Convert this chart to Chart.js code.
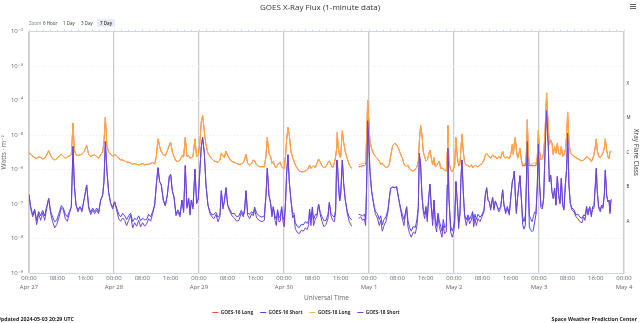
<!DOCTYPE html>
<html>
<head>
<meta charset="utf-8">
<script src="https://cdn.jsdelivr.net/npm/chart.js@4.4.1/dist/chart.umd.min.js"></script>
<style>
  html, body { margin: 0; padding: 0; background: #fff; }
  #wrap { position: relative; width: 640px; height: 323px; overflow: hidden; font-family: "Open Sans", "DejaVu Sans", sans-serif; }
  #xray { position: absolute; left: 0; top: 0; }
  .zoom { position: absolute; top: 19px; height: 8px; line-height: 8px; font-size: 4.5px; color: #333; white-space: nowrap; }
  .zoom.label { color: #777; }
  .zoom.sel { background: #e6ebf5; padding: 0 3px; font-weight: 600; }
  #menu { position: absolute; left: 630px; top: 4px; width: 6px; }
  #menu i { display: block; height: 1px; background: #666; margin-bottom: 0.8px; }
  .credit { position: absolute; top: 315px; height: 8px; line-height: 8px; font-size: 5.2px; font-weight: 700; color: #222; white-space: nowrap; }
</style>
</head>
<body>
<div id="wrap">
  <canvas id="xray" width="640" height="323"></canvas>
  <div class="zoom label" style="left:29px">Zoom</div>
  <div class="zoom" style="left:43px">6 Hour</div>
  <div class="zoom" style="left:63px">1 Day</div>
  <div class="zoom" style="left:81px">3 Day</div>
  <div class="zoom sel" style="left:97px">7 Day</div>
  <div id="menu"><i></i><i></i><i></i></div>
  <div class="credit" style="left:-3px">Updated 2024-05-03 20:29 UTC</div>
  <div class="credit" style="right:3px">Space Weather Prediction Center</div>
</div>
<script>
// hours since 2024-04-27 00:00 UTC (null row = data gap)
const hours = [
  0, 0.47, 1.04, 1.6, 2.17, 2.73, 3.3, 3.86, 4.43, 4.99, 5.55, 6.12, 6.68, 7.25, 7.81, 8.38, 9.13, 9.7, 10.26, 10.82,
  11.39, 11.95, 12.42, 12.8, 13.27, 13.83, 14.4, 14.96, 15.53, 16.28, 16.85, 17.41, 17.98, 18.54, 19.1, 19.67, 20.23, 20.8, 21.17, 21.55,
  22.02, 22.49, 23.06, 23.62, 24.19, 24.75, 25.32, 25.88, 26.44, 27.01, 27.57, 28.14, 28.7, 29.27, 29.83, 30.4, 30.96, 31.53, 32.09, 32.66,
  33.22, 33.78, 34.35, 34.91, 35.48, 35.95, 36.42, 36.89, 37.36, 37.92, 38.49, 39.05, 39.62, 39.99, 40.46, 40.93, 41.5,
  42.06, 42.63, 43.19, 43.66, 44.13, 44.6, 45.08, 45.45, 45.83, 46.3, 46.86, 47.33, 47.8, 48.28, 48.65, 49.03, 49.5, 49.97, 50.53, 51.1,
  51.66, 52.23, 52.79, 53.36, 53.92, 54.3, 54.77, 55.14, 55.62, 56.09, 56.65, 57.31, 57.97, 58.63, 59.28, 59.94, 60.51, 60.88, 61.26, 61.73,
  62.3, 62.86, 63.33, 63.71, 64.27, 65.03, 65.78, 66.44, 66.91, 67.28, 67.75, 68.22, 68.6, 68.98, 69.45, 69.82, 70.2, 70.58, 70.95, 71.33,
  71.71, 72.08, 72.46, 72.74, 73.12, 73.49, 73.96, 74.44, 74.81, 75.19, 75.75, 76.32, 76.88, 77.45, 78.01, 78.58, 78.95, 79.23, 79.61, 79.99,
  80.36, 80.83, 81.3, 81.77, 82.24, 82.72, 83.28,
  83.85, 84.42, 84.8, 85.27, 85.74, 86.21, 86.58, 86.87, 87.05, 87.34, 87.71, 87.99, 88.47, 88.84, 89.31, 89.88, 90.44, 91.1, 92, 93.08,
  93.64, 94.21, 94.68, 95.05, 95.34, 95.62, 95.9, 96.28, 96.75, 97.22, 97.78, 98.35, 98.91, 99.29, 99.76, 100.23, 100.79, 101.36, 101.73, 102.11,
  102.68, 103.24, 103.8, 104.37, 104.93, 105.5, 105.87, 106.25, 106.63, 107.0, 107.47, 107.94, 108.51, 109.07, 109.54, 109.92, 110.2, 110.58, 110.95, 111.33,
  111.71, 112.08, 112.46, 112.84, 113.21, 113.59, 113.97, 114.34, 114.72, 115.1, 115.47, 115.85, 116.23, 116.6, 116.98, 117.35, 117.82, 118.11, 118.3, 118.58,
  119.05, 119.52, 119.89, 120.18, 120.55, 120.93, 121.31, 121.68, 121.96, 122.25, 122.62, 123.0, 123.47, 123.94, 124.41, 124.98,
  125.27, 125.55, 125.93, 126.3, 126.77, 127.34, 127.9, 128.47, 128.84, 129.22, 129.6, 129.97, 130.35, 130.91, 131.29, 131.67, 132.14, 132.61, 133.17, 133.74,
  134.11, 134.58, 135.05, 135.62, 136.09, 136.47, 136.75, 137.03, 137.31, 137.6, 137.97, 138.35, 138.63, 139.01, 139.38, 139.76, 140.14, 140.42, 140.7, 140.98,
  141.27, 141.64, 142.02, 142.39, 142.77, 143.15, 143.52, 143.81, 144.18, 144.56, 144.94, 145.31, 145.69, 145.97, 146.16, 146.35, 146.63, 146.91, 147.29, 147.66,
  148.04, 148.42, 148.79, 149.17, 149.55, 149.92, 150.3, 150.68, 151.05, 151.43, 151.81, 152.09, 152.46, 152.84, 153.31, 153.88, 154.44, 155.0, 155.57, 156.13,
  156.6, 156.98, 157.45, 157.83, 158.3, 158.77, 159.15, 159.52, 159.9, 160.18, 160.46, 160.84, 161.31, 161.69, 162.06, 162.44, 162.72, 163.1, 163.47, 163.76,
  164.04, 164.32, 164.42
];

// 0.1-0.8 nm, GOES-18 (W/m²)
const goes18Long = [
  3.3e-6, 2.8e-6, 2.4e-6, 2.24e-6, 2.14e-6, 2.34e-6, 2.24e-6, 2.05e-6, 2.14e-6, 2.7e-6, 3.55e-6, 2.56e-6, 2.05e-6, 1.91e-6, 2.05e-6, 2.4e-6, 2.8e-6, 2.4e-6, 2.14e-6, 2.34e-6,
  2.5e-6, 2.7e-6, 2.24e-5, 3.7e-6, 2.7e-6, 2.56e-6, 2.7e-6, 2.8e-6, 3.3e-6, 5.0e-6, 2.8e-6, 2.4e-6, 2.56e-6, 2.7e-6, 2.4e-6, 2.14e-6, 2.7e-6, 3.3e-6, 6.5e-6, 3.27e-5,
  4.7e-6, 3.3e-6, 2.8e-6, 2.45e-6, 2.7e-6, 2.56e-6, 2.14e-6, 1.91e-6, 1.91e-6, 1.79e-6, 1.64e-6, 1.64e-6, 1.53e-6, 1.43e-6, 1.5e-6, 1.43e-6, 1.37e-6, 1.43e-6, 1.5e-6, 1.37e-6,
  1.43e-6, 1.43e-6, 1.5e-6, 1.64e-6, 1.43e-6, 2.4e-6, 7.8e-6, 4.7e-6, 3.3e-6, 2.7e-6, 2.56e-6, 3.45e-6, 5.2e-6, 6.25e-6, 3.3e-6, 2.4e-6, 1.79e-6,
  1.71e-6, 1.87e-6, 2.56e-6, 2.34e-6, 8.55e-6, 2.4e-6, 2.56e-6, 2.14e-6, 2.24e-6, 2.4e-6, 7.8e-6, 2.4e-6, 2.7e-6, 6.5e-6, 2.5e-5, 3.74e-5, 1.28e-5, 5.2e-6, 3.0e-6, 2.4e-6,
  2.05e-6, 1.79e-6, 1.71e-6, 1.64e-6, 1.91e-6, 3.0e-6, 2.56e-6, 2.24e-6, 3.45e-6, 2.56e-6, 2.05e-6, 1.71e-6, 1.64e-6, 1.5e-6, 1.43e-6, 1.43e-6, 1.64e-6, 1.91e-6, 2.8e-6, 1.53e-6,
  1.37e-6, 1.5e-6, 1.91e-6, 1.79e-6, 1.37e-6, 1.22e-6, 1.22e-6, 1.22e-6, 2.4e-6, 8.55e-6, 3.0e-6, 2.4e-6, 1.53e-6, 1.71e-6, 1.22e-6, 1.14e-6, 1.37e-6, 1.53e-6, 1.64e-6, 1.22e-6,
  1.09e-6, 1.09e-6, 2.7e-6, 7.3e-6, 1.67e-5, 1.02e-5, 3.3e-6, 2.24e-6, 1.79e-6, 1.37e-6, 1.09e-6, 9.1e-7, 8.7e-7, 8.7e-7, 9.1e-7, 9.8e-7, 1.14e-6, 1.37e-6, 1.09e-6, 1.22e-6,
  1.31e-6, 1.14e-6, 1.53e-6, 2.05e-6, 1.64e-6, 1.31e-6, 1.14e-6,
  1.22e-6, 1.64e-6, 1.79e-6, 1.37e-6, 1.14e-6, 1.53e-6, 2.4e-6, 4.2e-6, 1.22e-5, 4.2e-6, 2.4e-6, 2.24e-6, 1.34e-5, 6.25e-6, 3.3e-6, 2.05e-6, 1.37e-6, 1.09e-6, null, 1.37e-6,
  1.43e-6, 1.53e-6, 1.53e-6, 1.64e-6, 1.02e-5, 1.0e-4, 3.13e-5, 6.5e-6, 4.0e-6, 3.0e-6, 2.4e-6, 2.14e-6, 1.79e-6, 1.43e-6, 1.53e-6, 1.31e-6, 1.14e-6, 1.22e-6, 1.43e-6, 2.4e-6,
  5.0e-6, 5.8e-6, 5.2e-6, 4.0e-6, 2.8e-6, 2.05e-6, 1.43e-6, 1.31e-6, 1.22e-6, 1.37e-6, 1.04e-6, 9.6e-7, 9.1e-7, 1.04e-6, 1.2e-6, 1.79e-6, 6.5e-6, 1.91e-5, 1.02e-5, 3.3e-6,
  2.4e-6, 1.79e-6, 1.91e-6, 2.7e-6, 3.7e-6, 2.14e-6, 1.37e-6, 2.24e-6, 1.22e-6, 1.31e-6, 1.53e-6, 1.79e-6, 1.09e-6, 1.14e-6, 1.04e-6, 9.6e-7, 9.1e-7, 3.3e-6, 1.91e-5, 1.71e-6,
  9.8e-7, 8.7e-7, 1.09e-6, 1.37e-6, 8.55e-6, 2.56e-6, 1.43e-6, 1.64e-6, 4.2e-6, 1.07e-5, 3.3e-6, 1.64e-6, 1.37e-6, 1.31e-6, 1.22e-6, 1.37e-6,
  1.14e-6, 1.22e-6, 1.37e-6, 1.25e-6, 1.22e-6, 1.37e-6, 1.5e-6, 1.91e-6, 2.56e-6, 3.0e-6, 2.56e-6, 2.4e-6, 2.14e-6, 2.7e-6, 2.34e-6, 2.4e-6, 2.05e-6, 2.4e-6, 2.14e-6, 3.45e-6,
  2.4e-6, 2.14e-6, 2.4e-6, 2.05e-6, 3.0e-6, 5.47e-6, 2.7e-6, 5.8e-6, 8.55e-6, 3.7e-6, 2.14e-6, 3.0e-6, 4.2e-6, 1.91e-6, 1.43e-6, 1.43e-6, 1.53e-6, 3.3e-6, 2.8e-5, 3.3e-6,
  1.5e-6, 1.43e-6, 1.43e-6, 1.53e-6, 1.64e-6, 1.43e-6, 2.4e-6, 1.34e-5, 3.3e-6, 1.91e-6, 2.05e-6, 3.0e-6, 1.14e-5, 6.1e-5, 1.67e-4, 5.5e-5, 1.79e-5, 5.2e-6, 7.3e-6, 5.8e-6,
  2.7e-6, 4.7e-6, 3.0e-6, 5.8e-6, 3.0e-6, 2.7e-6, 4.7e-6, 2.4e-6, 2.7e-6, 3.7e-6, 1.02e-5, 4.7e-5, 6.5e-6, 3.0e-6, 2.7e-6, 2.4e-6, 2.24e-6, 2.05e-6, 1.91e-6, 1.79e-6,
  1.91e-6, 2.05e-6, 2.4e-6, 2.24e-6, 2.05e-6, 1.71e-6, 2.05e-6, 2.7e-6, 4.7e-6, 7.8e-6, 3.7e-6, 2.4e-6, 2.24e-6, 2.56e-6, 3.0e-6, 4.2e-6, 7.8e-6, 3.7e-6, 2.4e-6, 2.05e-6,
  3.3e-6, 3.45e-6, 3.45e-6
];

// 0.05-0.4 nm, GOES-18 (W/m²)
const goes18Short = [
  1.9e-7, 7.5e-8, 4.3e-8, 6.3e-8, 2.55e-8, 5.3e-8, 3.4e-8, 5.7e-8, 3.4e-8, 7.5e-8, 1.46e-7, 5.3e-8, 3.1e-8, 2.05e-8, 2.55e-8, 3.8e-8, 7.9e-8, 6.7e-8, 3.8e-8, 3.2e-8,
  5.3e-8, 8.4e-8, 4.7e-6, 3.6e-7, 9.4e-8, 6.0e-8, 8.4e-8, 6.0e-8, 1.31e-7, 3.6e-7, 7.5e-8, 5.0e-8, 6.7e-8, 5.3e-8, 6.7e-8, 5.3e-8, 1.31e-7, 1.83e-7, 4.5e-7, 6.5e-6,
  8.7e-7, 2.2e-7, 1.05e-7, 7.2e-8, 1.17e-7, 6.7e-8, 3.8e-8, 3.2e-8, 4.0e-8, 3.4e-8, 2.4e-8, 3.4e-8, 4.8e-8, 2.05e-8, 2.9e-8, 2.3e-8, 3.4e-8, 2.2e-8, 2.9e-8, 2.3e-8,
  2.7e-8, 3.8e-8, 3.2e-8, 5.3e-8, 9.4e-8, 3.6e-7, 1.14e-6, 4.5e-7, 3.6e-7, 1.31e-7, 9.0e-8, 1.83e-7, 6.3e-7, 7.3e-7, 2.45e-7, 1.64e-7, 4.6e-8,
  6.0e-8, 4.3e-8, 1.31e-7, 5.7e-8, 1.31e-6, 7.5e-8, 1.46e-7, 4.8e-8, 1.31e-7, 7.2e-8, 1.04e-6, 1.05e-7, 1.46e-7, 1.09e-6, 4.7e-6, 8.55e-6, 3.0e-6, 3.6e-7, 9.4e-8, 5.3e-8,
  4.3e-8, 3.8e-8, 5.0e-8, 3.1e-8, 4.3e-8, 2.45e-7, 7.2e-8, 1.17e-7, 3.0e-7, 9.4e-8, 6.3e-8, 4.6e-8, 4.0e-8, 3.2e-8, 3.4e-8, 5.7e-8, 4.3e-8, 6.3e-8, 2.45e-7, 4.8e-8,
  3.8e-8, 5.3e-8, 4.6e-8, 7.2e-8, 4.0e-8, 3.4e-8, 3.1e-8, 3.4e-8, 1.83e-7, 1.09e-6, 1.83e-7, 1.05e-7, 4.3e-8, 8.4e-8, 3.4e-8, 2.4e-8, 6.0e-8, 3.1e-8, 3.2e-8, 8.4e-8,
  3.1e-8, 2.2e-8, 1.31e-7, 7.8e-7, 2.7e-6, 4.5e-7, 1.31e-7, 4.0e-8, 4.8e-8, 1.95e-8, 1.5e-8, 1.4e-8, 1.75e-8, 1.65e-8, 2.05e-8, 1.85e-8, 2.55e-8, 6.3e-8, 2.4e-8, 7.2e-8,
  2.4e-8, 3.7e-8, 4.3e-8, 1.0e-7, 5.0e-8, 3.2e-8, 2.2e-8,
  2.55e-8, 3.8e-8, 1.12e-7, 4.6e-8, 3.4e-8, 3.1e-8, 6.0e-8, 1.9e-6, 1.8e-6, 4.5e-7, 1.24e-7, 1.83e-7, 1.9e-6, 4.0e-7, 1.31e-7, 5.3e-8, 3.1e-8, 2.3e-8, null, 3.8e-8,
  4.3e-8, 3.4e-8, 3.8e-8, 2.4e-8, 3.6e-7, 2.6e-5, 8.2e-6, 8.7e-7, 2.3e-7, 1.17e-7, 5.3e-8, 4.0e-8, 2.4e-8, 3.4e-8, 1.65e-8, 2.4e-8, 3.2e-8, 6.0e-8, 1.46e-7, 2.9e-7,
  3.15e-7, 3.0e-7, 3.2e-7, 1.46e-7, 6.7e-8, 3.4e-8, 2.4e-8, 4.8e-8, 8.4e-8, 2.2e-8, 1.4e-8, 1.1e-8, 1.56e-8, 1.4e-8, 2.4e-8, 7.5e-8, 3.0e-6, 1.37e-6, 1.83e-7, 6.0e-8,
  3.8e-8, 7.5e-8, 3.1e-8, 1.46e-7, 3.8e-7, 7.5e-8, 2.4e-8, 1.31e-7, 2.4e-8, 1.56e-8, 4.8e-8, 2.2e-8, 1.56e-8, 1.1e-8, 2.4e-8, 1.4e-8, 1.56e-8, 3.6e-7, 4.2e-6, 1.46e-7,
  1.56e-8, 1.1e-8, 1.56e-8, 2.4e-8, 4.5e-7, 1.17e-7, 1.95e-8, 4.8e-8, 5.6e-7, 1.9e-6, 2.3e-7, 4.3e-8, 2.4e-8, 4.3e-8, 2.7e-8, 3.7e-8,
  5.3e-8, 2.2e-8, 3.8e-8, 2.4e-8, 3.8e-8, 3.1e-8, 4.3e-8, 6.0e-8, 1.83e-7, 3.0e-7, 1.31e-7, 1.17e-7, 6.7e-8, 1.56e-7, 6.7e-8, 1.24e-7, 9.0e-8, 6.0e-8, 7.5e-8, 2.6e-7,
  9.4e-8, 5.3e-8, 7.5e-8, 4.8e-8, 1.83e-7, 4.5e-7, 5.6e-7, 9.1e-7, 1.83e-7, 5.3e-8, 1.64e-7, 3.6e-7, 6.7e-7, 1.46e-7, 4.3e-8, 3.1e-8, 4.8e-8, 3.6e-7, 6.5e-6, 4.5e-7,
  4.8e-8, 3.8e-8, 3.1e-8, 4.3e-8, 6.0e-8, 5.3e-8, 3.6e-7, 5.5e-6, 3.6e-7, 7.9e-8, 7.2e-8, 1.46e-7, 3.0e-6, 2.5e-5, 5.1e-5, 1.6e-5, 4.7e-6, 4.5e-7, 7.0e-7, 2.3e-7,
  1.46e-7, 2.9e-7, 9.4e-8, 6.3e-7, 1.83e-7, 1.05e-7, 5.6e-7, 9.4e-8, 6.7e-8, 3.6e-7, 1.09e-6, 1.14e-5, 3.6e-7, 1.05e-7, 6.7e-8, 6.0e-8, 4.3e-8, 3.8e-8, 3.1e-8, 2.9e-8,
  4.3e-8, 3.4e-8, 7.5e-8, 4.8e-8, 8.4e-8, 4.3e-8, 7.5e-8, 7.5e-8, 3.6e-7, 1.09e-6, 2.3e-7, 7.5e-8, 6.0e-8, 9.4e-8, 7.5e-8, 1.83e-7, 9.8e-7, 1.83e-7, 1.17e-7, 1.31e-7,
  5.3e-8, 1.31e-7, 1.37e-7
];

// 0.1-0.8 nm, GOES-16 (W/m²)
const goes16Long = [
  3.3e-6, 2.8e-6, 2.4e-6, 2.24e-6, 2.14e-6, 2.34e-6, 2.24e-6, 2.05e-6, 2.14e-6, 2.7e-6, 3.55e-6, 2.56e-6, 2.05e-6, 1.91e-6, 2.05e-6, 2.4e-6, 2.8e-6, 2.4e-6, 2.14e-6, 2.34e-6,
  2.5e-6, 2.7e-6, 2.24e-5, 3.7e-6, 2.7e-6, 2.56e-6, 2.7e-6, 2.8e-6, 3.3e-6, 5.0e-6, 2.8e-6, 2.4e-6, 2.56e-6, 2.7e-6, 2.4e-6, 2.14e-6, 2.7e-6, 3.3e-6, 6.5e-6, 3.27e-5,
  4.7e-6, 3.3e-6, 2.8e-6, 2.45e-6, 2.7e-6, 2.56e-6, 2.14e-6, 1.91e-6, 1.91e-6, 1.79e-6, 1.64e-6, 1.64e-6, 1.53e-6, 1.43e-6, 1.5e-6, 1.43e-6, 1.37e-6, 1.43e-6, 1.5e-6, 1.37e-6,
  1.43e-6, 1.43e-6, 1.5e-6, 1.64e-6, 1.43e-6, 2.4e-6, 7.8e-6, 4.7e-6, 3.3e-6, 2.7e-6, 2.56e-6, 3.45e-6, 5.2e-6, 6.25e-6, 3.3e-6, 2.4e-6, 1.79e-6,
  1.71e-6, 1.87e-6, 2.56e-6, 2.34e-6, 8.55e-6, 2.4e-6, 2.56e-6, 2.14e-6, 2.24e-6, 2.4e-6, 7.8e-6, 2.4e-6, 2.7e-6, 6.5e-6, 2.5e-5, 3.74e-5, 1.28e-5, 5.2e-6, 3.0e-6, 2.4e-6,
  2.05e-6, 1.79e-6, 1.71e-6, 1.64e-6, 1.91e-6, 3.0e-6, 2.56e-6, 2.24e-6, 3.45e-6, 2.56e-6, 2.05e-6, 1.71e-6, 1.64e-6, 1.5e-6, 1.43e-6, 1.43e-6, 1.64e-6, 1.91e-6, 2.8e-6, 1.53e-6,
  1.37e-6, 1.5e-6, 1.91e-6, 1.79e-6, 1.37e-6, 1.22e-6, 1.22e-6, 1.22e-6, 2.4e-6, 8.55e-6, 3.0e-6, 2.4e-6, 1.53e-6, 1.71e-6, 1.22e-6, 1.14e-6, 1.37e-6, 1.53e-6, 1.64e-6, 1.22e-6,
  1.09e-6, 1.09e-6, 2.7e-6, 7.3e-6, 1.67e-5, 1.02e-5, 3.3e-6, 2.24e-6, 1.79e-6, 1.37e-6, 1.09e-6, 9.1e-7, 8.7e-7, 8.7e-7, 9.1e-7, 9.8e-7, 1.14e-6, 1.37e-6, 1.09e-6, 1.22e-6,
  1.31e-6, 1.14e-6, 1.53e-6, 2.05e-6, 1.64e-6, 1.31e-6, 1.14e-6,
  1.22e-6, 1.64e-6, 1.79e-6, 1.37e-6, 1.14e-6, 1.53e-6, 2.4e-6, 4.2e-6, 1.22e-5, 4.2e-6, 2.4e-6, 2.24e-6, 1.34e-5, 6.25e-6, 3.3e-6, 2.05e-6, 1.37e-6, 1.09e-6, null, 1.2e-6,
  1.25e-6, 1.3e-6, 1.3e-6, 1.4e-6, 1.02e-5, 1.0e-4, 3.13e-5, 6.5e-6, 4.0e-6, 3.0e-6, 2.4e-6, 2.14e-6, 1.79e-6, 1.43e-6, 1.53e-6, 1.31e-6, 1.14e-6, 1.22e-6, 1.43e-6, 2.4e-6,
  5.0e-6, 5.8e-6, 5.2e-6, 4.0e-6, 2.8e-6, 2.05e-6, 1.43e-6, 1.31e-6, 1.22e-6, 1.37e-6, 1.04e-6, 9.6e-7, 9.1e-7, 1.04e-6, 1.2e-6, 1.79e-6, 6.5e-6, 1.91e-5, 1.02e-5, 3.3e-6,
  2.4e-6, 1.79e-6, 1.91e-6, 2.7e-6, 3.7e-6, 2.14e-6, 1.37e-6, 2.24e-6, 1.22e-6, 1.31e-6, 1.53e-6, 1.79e-6, 1.09e-6, 1.14e-6, 1.04e-6, 9.6e-7, 9.1e-7, 3.3e-6, 1.91e-5, 1.71e-6,
  9.8e-7, 8.7e-7, 1.09e-6, 1.25e-6, 8.55e-6, 2.2e-6, 1.3e-6, 1.4e-6, 4.2e-6, 1.07e-5, 3.3e-6, 1.64e-6, 1.37e-6, 1.31e-6, 1.22e-6, 1.37e-6,
  1.14e-6, 1.22e-6, 1.37e-6, 1.25e-6, 1.22e-6, 1.37e-6, 1.5e-6, 1.91e-6, 2.56e-6, 3.0e-6, 2.56e-6, 2.4e-6, 2.14e-6, 2.7e-6, 2.34e-6, 2.4e-6, 2.05e-6, 2.4e-6, 2.14e-6, 3.45e-6,
  2.4e-6, 2.14e-6, 2.4e-6, 2.05e-6, 3.0e-6, 5.47e-6, 2.7e-6, 5.8e-6, 8.55e-6, 3.7e-6, 2.14e-6, 3.0e-6, 4.2e-6, 1.91e-6, 1.3e-6, 1.3e-6, 1.3e-6, 3.0e-6, 2.8e-5, 3.0e-6,
  1.3e-6, 1.3e-6, 1.3e-6, 1.3e-6, 1.3e-6, 1.3e-6, 2.4e-6, 1.34e-5, 3.3e-6, 1.91e-6, 2.05e-6, 3.0e-6, 1.14e-5, 6.1e-5, 1.67e-4, 5.5e-5, 1.79e-5, 5.2e-6, 7.3e-6, 5.8e-6,
  2.7e-6, 4.7e-6, 3.0e-6, 5.8e-6, 3.0e-6, 2.7e-6, 4.7e-6, 2.4e-6, 2.7e-6, 3.7e-6, 1.02e-5, 4.7e-5, 6.5e-6, 3.0e-6, 2.7e-6, 2.4e-6, 2.24e-6, 2.05e-6, 1.91e-6, 1.79e-6,
  1.91e-6, 2.05e-6, 2.4e-6, 2.24e-6, 2.05e-6, 1.71e-6, 2.05e-6, 2.7e-6, 4.7e-6, 7.8e-6, 3.7e-6, 2.4e-6, 2.24e-6, 2.56e-6, 3.0e-6, 4.2e-6, 7.8e-6, 3.7e-6, 2.4e-6, 2.05e-6,
  3.3e-6, 3.45e-6, 3.45e-6
];

// 0.05-0.4 nm, GOES-16 (W/m²)
const goes16Short = [
  1.9e-7, 8.6e-8, 4.9e-8, 7.2e-8, 3.4e-8, 6.1e-8, 4.6e-8, 6.6e-8, 4.6e-8, 8.6e-8, 1.46e-7, 6.1e-8, 4.2e-8, 3.1e-8, 3.4e-8, 5.1e-8, 9.1e-8, 7.7e-8, 5.1e-8, 4.3e-8,
  6.1e-8, 8.4e-8, 4.7e-6, 3.6e-7, 9.4e-8, 6.9e-8, 8.4e-8, 6.9e-8, 1.31e-7, 3.6e-7, 8.6e-8, 5.8e-8, 7.7e-8, 6.1e-8, 7.7e-8, 6.1e-8, 1.31e-7, 1.83e-7, 4.5e-7, 6.5e-6,
  8.7e-7, 2.2e-7, 1.05e-7, 8.3e-8, 1.17e-7, 7.7e-8, 5.1e-8, 4.3e-8, 5.4e-8, 4.6e-8, 3.6e-8, 4.6e-8, 5.5e-8, 3.1e-8, 3.9e-8, 3.5e-8, 4.6e-8, 3.3e-8, 3.9e-8, 3.5e-8,
  3.6e-8, 5.1e-8, 4.3e-8, 6.1e-8, 9.4e-8, 3.6e-7, 1.14e-6, 4.5e-7, 3.6e-7, 1.31e-7, 9.0e-8, 1.83e-7, 6.3e-7, 7.3e-7, 2.45e-7, 1.64e-7, 5.3e-8,
  6.9e-8, 4.9e-8, 1.31e-7, 6.6e-8, 1.31e-6, 8.6e-8, 1.46e-7, 5.5e-8, 1.31e-7, 8.3e-8, 1.04e-6, 1.05e-7, 1.46e-7, 1.09e-6, 4.7e-6, 8.55e-6, 3.0e-6, 3.6e-7, 9.4e-8, 6.1e-8,
  4.9e-8, 5.1e-8, 5.8e-8, 4.2e-8, 4.9e-8, 2.45e-7, 8.3e-8, 1.17e-7, 3.0e-7, 9.4e-8, 7.2e-8, 5.3e-8, 5.4e-8, 4.3e-8, 4.6e-8, 6.6e-8, 4.9e-8, 7.2e-8, 2.45e-7, 5.5e-8,
  5.1e-8, 6.1e-8, 5.3e-8, 8.3e-8, 5.4e-8, 4.6e-8, 4.2e-8, 4.6e-8, 1.83e-7, 1.09e-6, 1.83e-7, 1.05e-7, 4.9e-8, 8.4e-8, 4.6e-8, 3.6e-8, 6.9e-8, 4.2e-8, 4.3e-8, 8.4e-8,
  4.2e-8, 3.3e-8, 1.31e-7, 7.8e-7, 2.7e-6, 4.5e-7, 1.31e-7, 5.4e-8, 5.5e-8, 2.9e-8, 2.25e-8, 2.1e-8, 2.6e-8, 2.5e-8, 3.1e-8, 2.8e-8, 3.4e-8, 7.2e-8, 3.6e-8, 8.3e-8,
  3.6e-8, 5.0e-8, 4.9e-8, 1.0e-7, 5.8e-8, 4.3e-8, 3.3e-8,
  3.4e-8, 5.1e-8, 1.12e-7, 5.3e-8, 4.6e-8, 4.2e-8, 6.9e-8, 1.9e-6, 1.8e-6, 4.5e-7, 1.24e-7, 1.83e-7, 1.9e-6, 4.0e-7, 1.31e-7, 6.1e-8, 4.2e-8, 3.5e-8, null, 5.1e-8,
  4.9e-8, 4.6e-8, 5.1e-8, 3.6e-8, 3.6e-7, 2.6e-5, 8.2e-6, 8.7e-7, 2.3e-7, 1.17e-7, 6.1e-8, 5.4e-8, 3.6e-8, 4.6e-8, 2.5e-8, 3.6e-8, 4.3e-8, 6.9e-8, 1.46e-7, 2.9e-7,
  3.15e-7, 3.0e-7, 3.2e-7, 1.46e-7, 7.7e-8, 4.6e-8, 3.6e-8, 5.5e-8, 8.4e-8, 3.3e-8, 2.1e-8, 1.65e-8, 2.3e-8, 2.1e-8, 3.6e-8, 8.6e-8, 3.0e-6, 1.37e-6, 1.83e-7, 6.9e-8,
  5.1e-8, 8.6e-8, 4.2e-8, 1.46e-7, 3.8e-7, 8.6e-8, 3.6e-8, 1.31e-7, 3.6e-8, 2.3e-8, 5.5e-8, 3.3e-8, 2.3e-8, 1.65e-8, 3.6e-8, 2.1e-8, 2.3e-8, 3.6e-7, 4.2e-6, 1.46e-7,
  2.3e-8, 1.65e-8, 2.3e-8, 3.6e-8, 4.5e-7, 1.17e-7, 2.9e-8, 5.5e-8, 5.6e-7, 1.9e-6, 2.3e-7, 4.9e-8, 3.6e-8, 4.9e-8, 3.6e-8, 5.0e-8,
  6.1e-8, 3.3e-8, 5.1e-8, 3.6e-8, 5.1e-8, 4.2e-8, 4.9e-8, 6.9e-8, 1.83e-7, 3.0e-7, 1.31e-7, 1.17e-7, 7.7e-8, 1.56e-7, 7.7e-8, 1.24e-7, 9.0e-8, 6.9e-8, 8.6e-8, 2.6e-7,
  9.4e-8, 6.1e-8, 8.6e-8, 5.5e-8, 1.83e-7, 4.5e-7, 5.6e-7, 9.1e-7, 1.83e-7, 6.1e-8, 1.64e-7, 3.6e-7, 6.7e-7, 1.46e-7, 2.6e-8, 1.9e-8, 2.4e-8, 3.6e-7, 6.5e-6, 4.5e-7,
  2.2e-8, 1.8e-8, 1.6e-8, 1.75e-8, 3.0e-8, 5.3e-8, 3.6e-7, 5.5e-6, 3.6e-7, 9.1e-8, 8.3e-8, 1.46e-7, 3.0e-6, 2.5e-5, 5.1e-5, 1.6e-5, 4.7e-6, 4.5e-7, 7.0e-7, 2.3e-7,
  1.46e-7, 2.9e-7, 9.4e-8, 6.3e-7, 1.83e-7, 1.05e-7, 5.6e-7, 9.4e-8, 7.7e-8, 3.6e-7, 1.09e-6, 1.14e-5, 3.6e-7, 1.05e-7, 7.7e-8, 6.9e-8, 4.9e-8, 5.1e-8, 4.2e-8, 3.9e-8,
  4.9e-8, 4.6e-8, 8.6e-8, 5.5e-8, 8.4e-8, 4.9e-8, 8.6e-8, 8.6e-8, 3.6e-7, 1.09e-6, 2.3e-7, 8.6e-8, 6.9e-8, 9.4e-8, 8.6e-8, 1.83e-7, 9.8e-7, 1.83e-7, 1.17e-7, 1.31e-7,
  6.1e-8, 1.31e-7, 1.37e-7
];

const dayLabels = ['Apr 27', 'Apr 28', 'Apr 29', 'Apr 30', 'May 1', 'May 2', 'May 3', 'May 4'];
const decadeLabels = ['10⁻⁹', '10⁻⁸', '10⁻⁷', '10⁻⁶', '10⁻⁵', '10⁻⁴', '10⁻³', '10⁻²'];
const flareClasses = ['A', 'B', 'C', 'M', 'X'];

const decades = decadeLabels.map((_, i) => Math.pow(10, i - 9));
// class letters sit mid-way through their decade (A = 1e-8 .. 1e-7, etc.)
const classCentres = flareClasses.map((_, i) => Math.pow(10, i - 7.5));

const series = [
  { label: 'GOES-16 Long', values: goes16Long, color: '#ff4a2e', order: 4 },
  { label: 'GOES-16 Short', values: goes16Short, color: '#4646ff', order: 3 },
  { label: 'GOES-18 Long', values: goes18Long, color: '#ffb040', order: 2 },
  { label: 'GOES-18 Short', values: goes18Short, color: '#7843cf', order: 1 }
];

// legend sits a little left of the canvas centre
const legendShift = {
  id: 'legendShift',
  afterLayout(chart) {
    chart.legend.left -= 14;
    chart.legend.right -= 14;
  }
};

const font = '"Open Sans", "DejaVu Sans", sans-serif';
Chart.defaults.font.family = font;

new Chart(document.getElementById('xray'), {
  type: 'line',
  plugins: [legendShift],
  data: {
    datasets: series.map(s => ({
      label: s.label,
      data: hours.map((h, i) => ({ x: h, y: s.values[i] })),
      borderColor: s.color,
      backgroundColor: s.color,
      borderWidth: 1,
      pointRadius: 0,
      tension: 0,
      spanGaps: false,
      order: s.order
    }))
  },
  options: {
    responsive: false,
    animation: false,
    devicePixelRatio: 1,
    layout: { padding: { left: 0, right: 0, top: 0, bottom: -2 } },
    plugins: {
      tooltip: { enabled: false },
      title: {
        display: true,
        text: 'GOES X-Ray Flux (1-minute data)',
        color: '#333',
        font: { size: 8, weight: 'normal' },
        padding: { top: 3, bottom: 19 }
      },
      legend: {
        position: 'bottom',
        labels: {
          color: '#333',
          font: { size: 4.8, weight: 'bold' },
          boxWidth: 6,
          boxHeight: 1,
          padding: 7,
          sort: (a, b) => a.datasetIndex - b.datasetIndex,
          generateLabels: chart => Chart.defaults.plugins.legend.labels.generateLabels(chart)
            .map(item => Object.assign(item, { lineWidth: 0, fillStyle: item.strokeStyle }))
        }
      }
    },
    scales: {
      x: {
        type: 'linear',
        position: 'bottom',
        min: 0,
        max: 168,
        afterFit: s => { s.height = 30; },
        ticks: {
          stepSize: 8,
          autoSkip: false,
          maxRotation: 0,
          color: '#666',
          padding: 1,
          font: { size: 6, lineHeight: 1.45 },
          callback: v => {
            const t = String(v % 24).padStart(2, '0') + ':00';
            return v % 24 === 0 ? [t, dayLabels[v / 24]] : t;
          }
        },
        grid: {
          color: c => (c.tick && c.tick.value % 24 === 0) ? '#cccccc' : 'rgba(0,0,0,0)',
          lineWidth: 1.3,
          drawTicks: false
        },
        border: { color: '#ccd6eb' },
        title: {
          display: true,
          text: 'Universal Time',
          color: '#666',
          font: { size: 6.5 },
          padding: { top: 0, bottom: 1 }
        }
      },
      xTop: {
        type: 'linear',
        position: 'top',
        min: 0,
        max: 168,
        afterFit: s => { s.height = 0; },
        ticks: { display: false, stepSize: 2 },
        grid: { drawOnChartArea: false, tickLength: 2, color: '#ccd6eb' },
        border: { color: '#ccd6eb' }
      },
      y: {
        type: 'logarithmic',
        position: 'left',
        min: 1e-9,
        max: 1e-2,
        afterFit: s => { s.width = 29; },
        afterBuildTicks: s => { s.ticks = decades.map(v => ({ value: v })); },
        ticks: {
          color: '#666',
          padding: 6,
          font: { size: 6 },
          callback: (v, i) => decadeLabels[i]
        },
        grid: { color: '#ececec', lineWidth: 1, drawTicks: false },
        border: { color: '#d8d8d8', dash: [1, 2] },
        title: {
          display: true,
          text: 'Watts · m⁻²',
          color: '#666',
          font: { size: 6.5 },
          padding: { top: 0, bottom: 1 }
        }
      },
      yClass: {
        type: 'logarithmic',
        position: 'right',
        min: 1e-9,
        max: 1e-2,
        afterFit: s => { s.width = 16; },
        afterBuildTicks: s => { s.ticks = classCentres.map(v => ({ value: v })); },
        ticks: {
          color: '#333',
          padding: 2.5,
          font: { size: 4.5 },
          callback: (v, i) => flareClasses[i]
        },
        grid: { drawOnChartArea: false, drawTicks: false },
        border: { color: '#e6e6e6' },
        title: {
          display: true,
          text: 'Xray Flare Class',
          color: '#333',
          font: { size: 6.5 },
          padding: { top: 0, bottom: 0 }
        }
      }
    }
  }
});
</script>
</body>
</html>
